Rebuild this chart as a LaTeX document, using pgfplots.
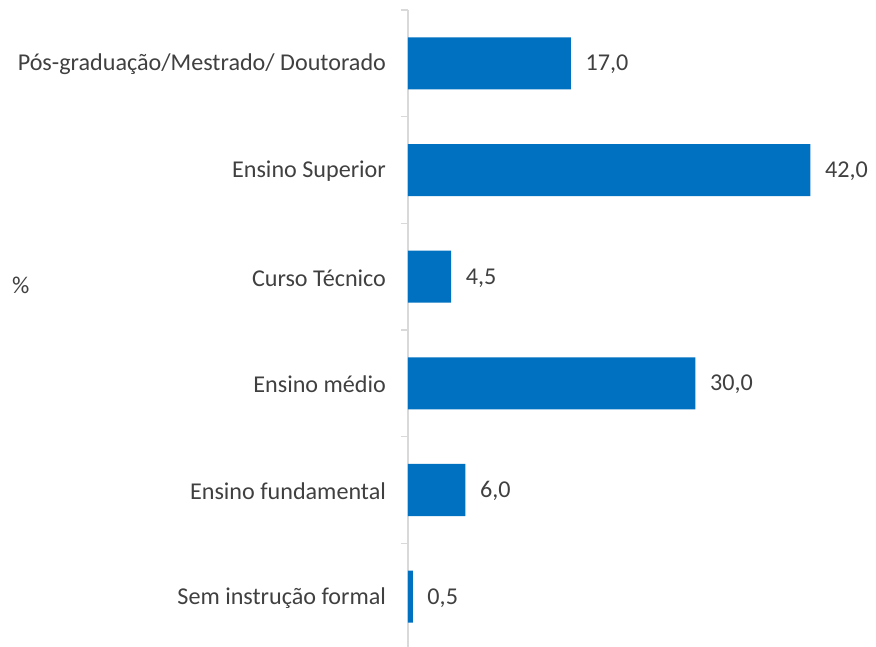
\documentclass[border=0pt]{standalone}
\usepackage{fontspec}
\setmainfont{Carlito}
\usepackage{pgfplots}
\pgfplotsset{compat=1.18}
\definecolor{barblue}{HTML}{0070C0}
\definecolor{txt}{HTML}{404040}
\definecolor{axgray}{HTML}{D9D9D9}
\begin{document}
\begin{tikzpicture}[x=1pt,y=1pt]
\path[use as bounding box] (0,0) rectangle (657,485.25);
\begin{axis}[
  at={(306pt,-2.25pt)}, anchor=south west,
  scale only axis,
  width=345pt, height=480pt,
  xbar, bar width=39pt,
  xmin=0, xmax=48,
  ymin=-0.5, ymax=5.5,
  axis x line=none,
  axis y line=left,
  axis line style={draw=axgray, line width=1.2pt, -},
  ytick={0,1,2,3,4,5},
  yticklabels={Sem instrução formal, Ensino fundamental, Ensino médio, Curso Técnico, Ensino Superior, {Pós-graduação/Mestrado/ Doutorado}},
  major tick length=0pt,
  minor ytick={-0.5,0.5,1.5,2.5,3.5,4.5,5.5},
  minor tick length=5.25pt,
  tick align=outside,
  minor tick style={draw=axgray, line width=1.2pt},
  yticklabel style={font=\fontsize{18.1}{22}\selectfont, text=txt, xshift=-13pt, yshift=-1pt},
  nodes near coords,
  nodes near coords align={horizontal},
  point meta=explicit symbolic,
  every node near coord/.append style={font=\fontsize{18.1}{22}\selectfont, text=txt, anchor=west, xshift=7.5pt, yshift=-1pt},
  clip=false,
]
\addplot[fill=barblue, draw=none] coordinates {
  (0.5,0) [0,5]
  (6.0,1) [6,0]
  (30.0,2) [30,0]
  (4.5,3) [4,5]
  (42.0,4) [42,0]
  (17.0,5) [17,0]
};
\end{axis}
\node[font=\fontsize{18.1}{22}\selectfont, text=txt] at (15.5,271) {\%};
\end{tikzpicture}
\end{document}
